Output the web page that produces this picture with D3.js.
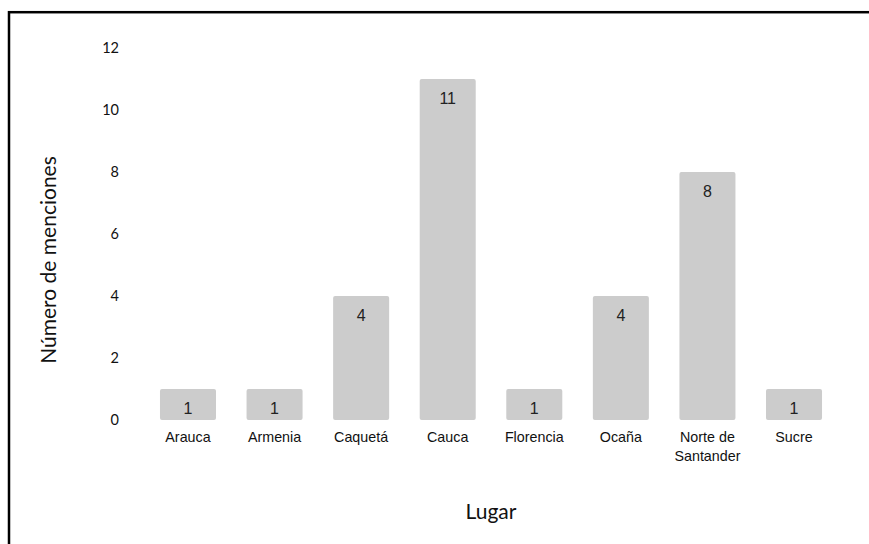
<!DOCTYPE html>
<html><head><meta charset="utf-8">
<script src="https://cdn.jsdelivr.net/npm/d3@7"></script>
<style>body{margin:0;background:#fff}svg{display:block}</style>
</head><body>
<script>
const categories = ["Arauca","Armenia","Caquetá","Cauca","Florencia","Ocaña","Norte de Santander","Sucre"];
const values = [1,1,4,11,1,4,8,1];
const yTicks = [0,2,4,6,8,10,12];
const xTitle = "Lugar";
const yTitle = "Número de menciones";

const W = 869, H = 544;
const svg = d3.select("body").append("svg").attr("width", W).attr("height", H);

svg.append("rect").attr("x", 9).attr("y", 12.2).attr("width", 900).attr("height", 600)
  .attr("fill", "none").attr("stroke", "#000").attr("stroke-width", 2.5);

const x = d3.scaleBand().domain(categories).range([144.7, 837.3]).paddingInner(0.353).paddingOuter(0.1765);
const y = d3.scaleLinear().domain([0, 12]).range([420, 48]);

// y axis labels
const yAxis = svg.append("g").attr("transform", "translate(124,0)")
  .call(d3.axisLeft(y).tickValues(yTicks).tickSize(0).tickPadding(5));
yAxis.select(".domain").remove();
yAxis.selectAll("text").attr("font-family", "Lato, 'Open Sans', sans-serif").attr("font-size", 14.5).attr("fill", "#111");

// bars
svg.append("g").selectAll("rect").data(categories).join("rect")
  .attr("x", d => x(d)).attr("width", x.bandwidth())
  .attr("y", (d,i) => y(values[i])).attr("height", (d,i) => y(0) - y(values[i]))
  .attr("rx", 2).attr("fill", "#cccccc");

// data labels
svg.append("g").selectAll("text").data(categories).join("text")
  .attr("x", d => x(d) + x.bandwidth()/2)
  .attr("y", (d,i) => y(values[i]) + 19)
  .attr("dy", "0.35em").attr("text-anchor", "middle")
  .attr("font-family", "'Liberation Sans', Arial, sans-serif").attr("font-size", 16).attr("fill", "#222")
  .text((d,i) => values[i]);

// x axis labels
const xl = svg.append("g").selectAll("text").data(categories).join("text")
  .attr("x", d => x(d) + x.bandwidth()/2)
  .attr("y", 437).attr("text-anchor", "middle")
  .attr("font-family", "'Liberation Sans', Arial, sans-serif").attr("font-size", 14.3).attr("fill", "#111");
xl.each(function(d){
  const t = d3.select(this);
  const parts = d === "Norte de Santander" ? ["Norte de","Santander"] : [d];
  parts.forEach((p,i) => t.append("tspan").attr("x", x(d) + x.bandwidth()/2).attr("dy", i === 0 ? "0.35em" : 19).text(p));
});

// titles
svg.append("text").attr("x", 491).attr("y", 512).attr("dy", "0.35em").attr("text-anchor", "middle")
  .attr("font-family", "Lato, 'Open Sans', sans-serif").attr("font-size", 21).attr("fill", "#111").text(xTitle);
svg.append("text").attr("transform", "translate(49,260) rotate(-90)").attr("dy", "0.35em").attr("text-anchor", "middle")
  .attr("font-family", "Lato, 'Open Sans', sans-serif").attr("font-size", 21).attr("fill", "#111").text(yTitle);
</script>
</body></html>
